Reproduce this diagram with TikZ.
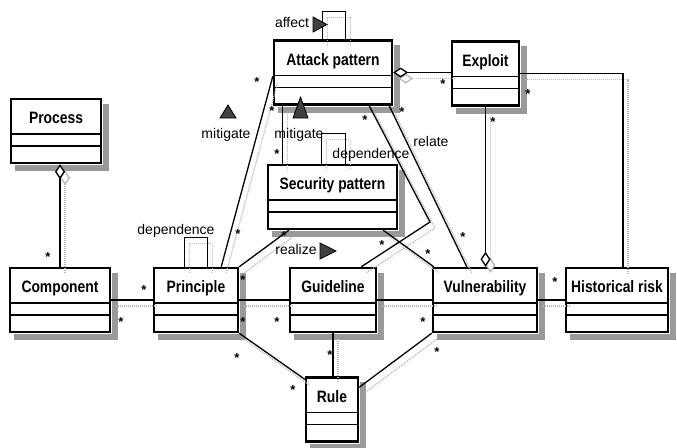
\documentclass[tikz,border=0pt]{standalone}
\usepackage{fontspec}
\setmainfont{Liberation Sans}
\newfontfamily\narrowfont[FakeStretch=0.84]{Liberation Sans}
\usetikzlibrary{positioning}
\usetikzlibrary{calc}
\usetikzlibrary{arrows.meta}

\tikzset{
	classbox/.style={draw, line width=2.4pt, fill=white, minimum height=64, inner sep=0pt},
	classshadow/.style={fill=black!40},
	classtitle/.style={font=\narrowfont\bfseries\fontsize{16.5}{18}\selectfont, inner sep=0pt},
	compline/.style={line width=1.6pt},
	link/.style={line width=1.3pt},
	selfloop/.style={line width=1pt},
	ghost/.style={gray!55, densely dotted, line width=1pt, transform canvas={shift={(5pt,-6pt)}}},
	role/.style={font=\fontsize{14}{16}\selectfont, inner sep=0pt, text height=10pt, text depth=3pt},
	mult/.style={font=\bfseries\fontsize{13}{13}\selectfont, inner sep=0pt, yshift=-2.5pt},
	dirmark/.style={fill=black!75, draw=black, line width=0.8pt},
	agg/.tip={Diamond[fill=white, length=15pt, width=10pt]}
}

% one class box: name, x, y, width, title
\newcommand{\umlclass}[5]{%
	\node[classbox, minimum width=#4] (#1) at (#2,#3) {};
	\node[classtitle, anchor=base] (#1-t) at ($(#1.north)+(0,26)$) {#5};
	\draw[compline] ($(#1.north west)+(0,36)$) -- ($(#1.north east)+(0,36)$);
	\draw[compline] ($(#1.north west)+(0,48)$) -- ($(#1.north east)+(0,48)$);
}

% all associations
\newcommand{\umllinks}{%
	\draw[link, agg-] (component.north |- process.south) -- (component.north);
	\draw[link] (component.east) -- (principle.west);
	\draw[link] (principle.east) -- (guideline.west);
	\draw[link] (guideline.east) -- (vulnerability.west);
	\draw[link] (vulnerability.east) -- (historical.west);
	\draw[link] ($(principle.north east)+(-18,0)$) -- ($(attack.north west)+(0,37)$);
	\draw[link] (principle.north east) -- ($(security.south west)+(22,0)$);
	\draw[link] ($(security.north west)+(16,0)$) -- ($(attack.south west)+(10,0)$);
	\draw[link, agg-] (attack.east) -- (attack.east -| exploit.west);
	\draw[link] (exploit.east) -| ($(historical.north)+(6,0)$);
	\draw[link, -agg] (exploit.south) -- (exploit.south |- vulnerability.north);
	\draw[link] ($(attack.south east)+(-4,0)$) -- ($(vulnerability.north west)+(35,0)$);
	\draw[link] ($(attack.south east)+(-24,0)$) -- (bend) -- ($(guideline.north east)+(-16,0)$);
	\draw[link] ($(security.south east)+(-15,0)$) -- ($(vulnerability.north west)+(2,0)$);
	\draw[link] (principle.south east) -- ($(rule.north west)+(0,3)$);
	\draw[link] (guideline.south) -- (guideline.south |- rule.north);
	\draw[link] (vulnerability.south west) -- ($(rule.north east)+(0,11)$);
	\draw[selfloop] ($(principle.north)+(-12,0)$) |- ($(principle.north)+(0,-29)$) -| ($(principle.north)+(11,0)$);
	\draw[selfloop] ($(security.north)+(-11.5,0)$) |- ($(security.north)+(0,-30)$) -| ($(security.north)+(12.5,0)$);
	\draw[selfloop] ($(attack.north)+(-11,0)$) |- ($(attack.north)+(0,-28)$) -| ($(attack.north)+(12,0)$);
}

\begin{document}
\begin{tikzpicture}[x=1pt, y=-1pt]
	\useasboundingbox (0,0) rectangle (677,447);

	\umlclass{process}{56}{131}{90}{Process}
	\umlclass{component}{60}{300}{100}{Component}
	\umlclass{principle}{196}{300}{84}{Principle}
	\umlclass{guideline}{333}{300}{86}{Guideline}
	\umlclass{vulnerability}{485}{300}{104}{Vulnerability}
	\umlclass{historical}{617}{300}{102}{Historical risk}
	\umlclass{attack}{333}{72.5}{118}{Attack pattern}
	\umlclass{exploit}{485.5}{73.5}{67}{Exploit}
	\umlclass{security}{332.5}{197}{129}{Security pattern}
	\umlclass{rule}{332}{409.5}{52}{Rule}

	\foreach \n in {process,component,principle,guideline,vulnerability,historical,attack,exploit,security,rule}{
		\fill[classshadow] ($(\n.north east)+(1.2,6)$) rectangle ($(\n.south east)+(6.5,7)$);
		\fill[classshadow] ($(\n.south west)+(5,1.2)$) rectangle ($(\n.south east)+(6.5,7)$);
	}

	\coordinate (bend) at (430,222);

	\begin{scope}[ghost]
		\umllinks
	\end{scope}
	\umllinks

	\node[role] (affect) at (292,24) {affect};
	\filldraw[dirmark] (313,17) -- (327,24.5) -- (313,32) -- cycle;
	\node[role] (mitigate-a) at (226,135) {mitigate};
	\filldraw[dirmark] (228,105) -- (236,118) -- (220,118) -- cycle;
	\node[role] (mitigate-b) at (299,135) {mitigate};
	\filldraw[dirmark] (300.5,97) -- (308,118) -- (293,118) -- cycle;
	\node[role] (dependence-a) at (176,231) {dependence};
	\node[role] (dependence-b) at (371,155) {dependence};
	\node[role] (relate) at (431,143) {relate};
	\node[role] (realize) at (296,251) {realize};
	\filldraw[dirmark] (320,243) -- (336,251) -- (320,259) -- cycle;

	\foreach \x/\y [count=\i] in {48/255, 144/288, 121/320, 257/80, 272/109, 238/232, 243/278,
			243/320, 277/320, 237/356, 293/388, 330/353, 423/320, 437/350, 277/152, 365/118,
			402/110, 443/82, 528/92, 493/120, 382/243, 428/252, 463/235, 555/280, 284/234}
		\node[mult] (star\i) at (\x,\y) {*};
\end{tikzpicture}
\end{document}
